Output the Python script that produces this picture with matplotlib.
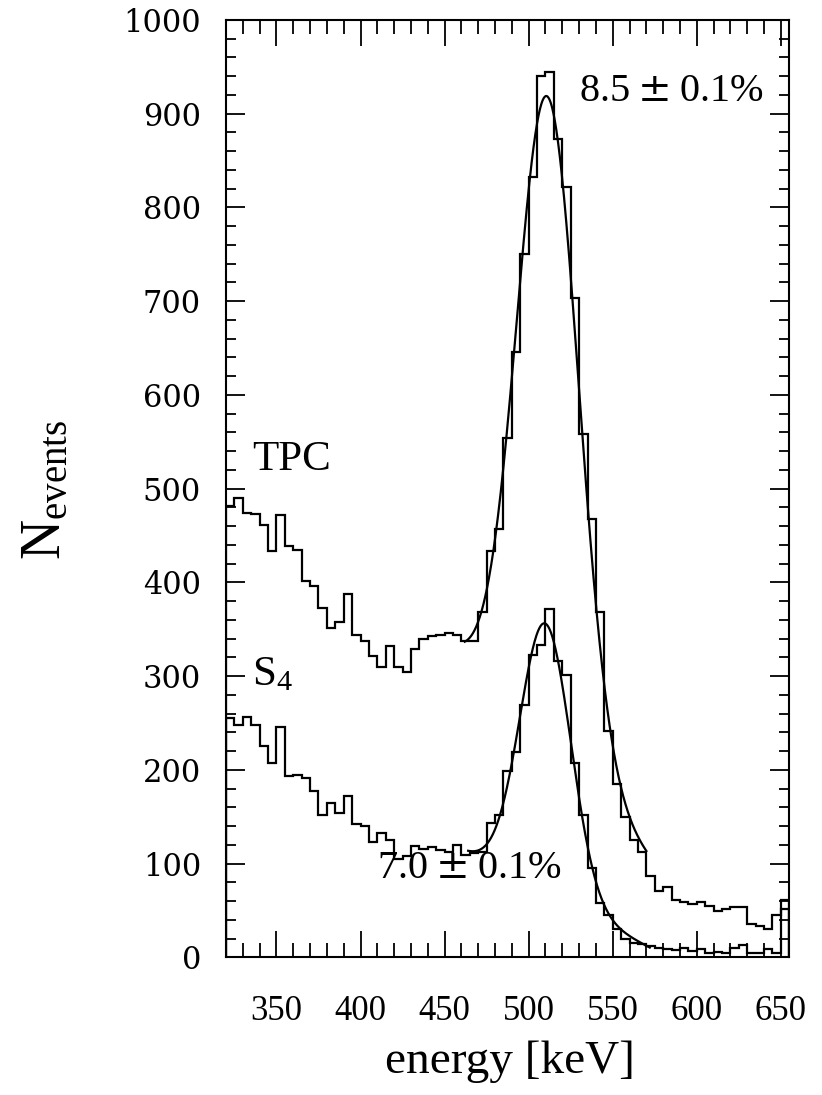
import numpy as np
import matplotlib
matplotlib.use("Agg")
import matplotlib.pyplot as plt
from matplotlib.ticker import MultipleLocator

# ---- binned energy spectra (5 keV bins, 320-655 keV) ----
bin_lo = 320.0
bin_width = 5.0

tpc_counts = [
    481, 490, 474, 473, 461, 434, 472, 439, 435, 401,
    396, 373, 351, 358, 388, 344, 337, 321, 310, 332,
    310, 304, 329, 340, 343, 344, 346, 344, 337, 337,
    368, 433, 457, 554, 646, 750, 833, 940, 944, 873,
    822, 703, 558, 468, 368, 241, 185, 150, 125, 112,
    87, 71, 75, 61, 59, 57, 59, 55, 49, 51,
    54, 54, 35, 33, 30, 45, 61,
]

s4_counts = [
    255, 248, 256, 248, 225, 207, 246, 193, 195, 191,
    177, 152, 165, 154, 172, 142, 140, 123, 133, 125,
    105, 108, 119, 116, 118, 114, 112, 120, 109, 111,
    112, 143, 152, 199, 219, 269, 322, 333, 372, 316,
    301, 207, 152, 95, 58, 45, 30, 20, 15, 14,
    12, 10, 9, 8, 10, 7, 9, 5, 6, 5,
    10, 13, 5, 5, 9, 5, 52,
]

# ---- photopeak fits: gaussian on a linear background ----
tpc_resolution = 8.5        # FWHM / E  [%]
tpc_mean = 511.4
tpc_amp = 696.0
tpc_bg0 = 222.0             # background at the peak position
tpc_bg1 = -1.93             # background slope [counts/keV]
tpc_fit_range = (462.0, 570.0)

s4_resolution = 7.0
s4_mean = 510.0
s4_amp = 288.0
s4_bg0 = 68.0
s4_bg1 = -0.93
s4_fit_range = (464.0, 572.0)

res_err = 0.1

x_range = (320, 655)
y_range = (0, 1000)


def peak_fit(x, mean, amp, res, bg0, bg1):
    sigma = res / 100.0 * mean / 2.3548
    return amp * np.exp(-0.5 * ((x - mean) / sigma) ** 2) + bg0 + bg1 * (x - mean)


def res_label(res, err):
    return f"{res:.1f}" + r"$\;\mathsf{\pm}\;$" + f"{err:.1f}%"


serif = "Liberation Serif"
plt.rcParams["font.family"] = serif
plt.rcParams["mathtext.fontset"] = "custom"
plt.rcParams["mathtext.rm"] = serif
plt.rcParams["mathtext.it"] = serif + ":italic"
plt.rcParams["mathtext.sf"] = "DejaVu Serif"

fig = plt.figure(figsize=(8.22, 10.95), dpi=100)
ax = fig.add_axes([226 / 822, 1 - 957.3 / 1095, (789.3 - 226) / 822, (957.3 - 20) / 1095])

edges = bin_lo + bin_width * np.arange(len(tpc_counts) + 1)
lw = 1.6
ax.stairs(tpc_counts, edges, color="black", lw=lw)
ax.stairs(s4_counts, edges, color="black", lw=lw)

xt = np.linspace(*tpc_fit_range, 400)
ax.plot(xt, peak_fit(xt, tpc_mean, tpc_amp, tpc_resolution, tpc_bg0, tpc_bg1),
        color="black", lw=lw)
xs = np.linspace(*s4_fit_range, 400)
ax.plot(xs, peak_fit(xs, s4_mean, s4_amp, s4_resolution, s4_bg0, s4_bg1),
        color="black", lw=lw)

ax.set_xlim(*x_range)
ax.set_ylim(*y_range)

ax.xaxis.set_major_locator(MultipleLocator(50))
ax.xaxis.set_minor_locator(MultipleLocator(10))
ax.yaxis.set_major_locator(MultipleLocator(100))
ax.yaxis.set_minor_locator(MultipleLocator(20))

for side in ax.spines.values():
    side.set_linewidth(1.5)

ax.tick_params(axis="x", which="major", direction="in", top=True, length=19,
               width=1.3, pad=27, labelsize=25)
ax.tick_params(axis="x", which="minor", direction="in", top=True, length=10, width=1.3)
ax.tick_params(axis="y", which="major", direction="in", right=True, length=13.5,
               width=1.3, pad=18, labelsize=22)
ax.tick_params(axis="y", which="minor", direction="in", right=True, length=7, width=1.3)

xticks = [350, 400, 450, 500, 550, 600, 650]
ax.set_xticks(xticks)
ax.set_xticklabels([str(v) for v in xticks], fontfamily=serif)
yticks = list(range(0, 1001, 100))
ax.set_yticks(yticks)
ax.set_yticklabels([str(v) for v in yticks], fontfamily="DejaVu Serif")

# detector labels and resolutions
ax.text(335.3, 520, "TPC", fontsize=31, ha="left", va="baseline")
ax.text(335.3, 290, r"S$_{4}$", fontsize=31, ha="left", va="baseline")
ax.text(530.0, 914, res_label(tpc_resolution, res_err),
        fontsize=29, ha="left", va="baseline")
ax.text(410.0, 85, res_label(s4_resolution, res_err),
        fontsize=29, ha="left", va="baseline")

fig.text(510 / 822, 1 - 1062 / 1095, "energy [keV]", fontsize=34,
         ha="center", va="center")
fig.text(46 / 822, 1 - 490 / 1095, r"N$_{\mathrm{events}}$", fontsize=40,
         rotation=90, ha="center", va="center")

fig.savefig("out.png", dpi=100)
